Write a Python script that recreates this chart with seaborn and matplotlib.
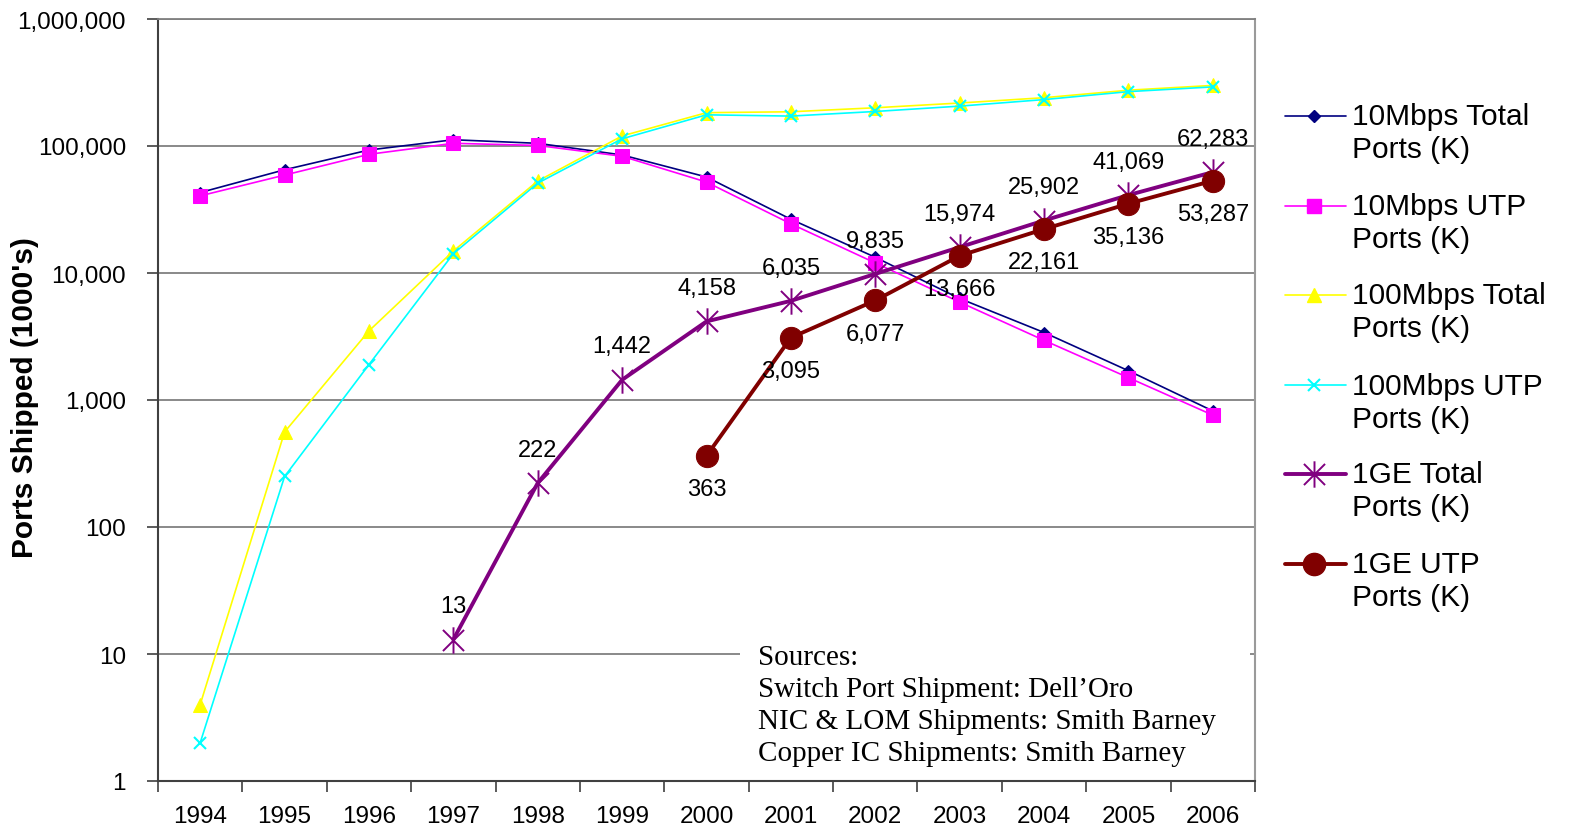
import numpy as np
import pandas as pd
import matplotlib
matplotlib.use("Agg")
import matplotlib.pyplot as plt
from matplotlib.path import Path
from matplotlib.lines import Line2D
from matplotlib.patches import Rectangle
from matplotlib.ticker import FuncFormatter, FixedLocator, NullLocator
import seaborn as sns

# ---- data (thousands of ports shipped) ----
years = [1994, 1995, 1996, 1997, 1998, 1999, 2000, 2001, 2002, 2003, 2004, 2005, 2006]

mbps10_total = [43000, 65000, 93000, 112000, 105000, 85000, 57000, 26500, 13300, 6300, 3400, 1700, 820]
mbps10_utp = [40500, 59000, 86000, 105000, 101000, 83000, 52000, 24400, 12000, 5900, 2950, 1500, 760]
mbps100_total = [4, 560, 3500, 14900, 53000, 120000, 183000, 186000, 200000, 218000, 240000, 275000, 300000]
mbps100_utp = [2, 250, 1900, 14200, 51000, 114000, 176000, 172000, 187000, 206000, 232000, 268000, 292000]
ge1_total = [np.nan, np.nan, np.nan, 13, 222, 1442, 4158, 6035, 9835, 15974, 25902, 41069, 62283]
ge1_utp = [np.nan, np.nan, np.nan, np.nan, np.nan, np.nan, 363, 3095, 6077, 13666, 22161, 35136, 53287]

series_names = [
    "10Mbps Total\nPorts (K)",
    "10Mbps UTP\nPorts (K)",
    "100Mbps Total\nPorts (K)",
    "100Mbps UTP\nPorts (K)",
    "1GE Total\nPorts (K)",
    "1GE UTP\nPorts (K)",
]
series_values = [mbps10_total, mbps10_utp, mbps100_total, mbps100_utp, ge1_total, ge1_utp]

source_lines = [
    "Sources:",
    "Switch Port Shipment: Dell\u2019Oro",
    "NIC & LOM Shipments: Smith Barney",
    "Copper IC Shipments: Smith Barney",
]

# ---- styling ----
sns.set_theme(style="white")
plt.rcParams["font.family"] = ["Liberation Sans", "DejaVu Sans"]

# Excel-style star: vertical bar crossed by an X
star = Path(
    [(0, -1), (0, 1), (-0.8, -0.8), (0.8, 0.8), (-0.8, 0.8), (0.8, -0.8)],
    [Path.MOVETO, Path.LINETO] * 3,
)

styles = [
    dict(color="#000080", marker="D", markersize=6, lw=1.2, mfc="#000080", mec="#000080"),
    dict(color="#FF00FF", marker="s", markersize=9.5, lw=1.2, mfc="#FF00FF", mec="#FF00FF"),
    dict(color="#FFFF00", marker="^", markersize=10, lw=1.2, mfc="#FFFF00", mec="#FFFF00"),
    dict(color="#00FFFF", marker="x", markersize=9, lw=1.2, mew=1.5, mec="#00FFFF"),
    dict(color="#800080", marker=star, markersize=19, lw=2.8, mew=1.4, mec="#800080", mfc="none"),
    dict(color="#800000", marker="o", markersize=16, lw=2.8, mfc="#800000", mec="#800000"),
]

W, H = 1570, 829
fig = plt.figure(figsize=(W / 100, H / 100), dpi=100)
ax = fig.add_axes([158 / W, 1 - 782 / H, (1255 - 158) / W, (782 - 20) / H])

xpos = np.arange(len(years))
for name, vals, st in zip(series_names, series_values, styles):
    df = pd.DataFrame({"x": xpos, "y": vals}).dropna()
    sns.lineplot(data=df, x="x", y="y", ax=ax, estimator=None, sort=False,
                 zorder=4, legend=False, **st)

# value labels for the gigabit series
for i, v in enumerate(ge1_total):
    if not np.isnan(v):
        ax.annotate(f"{int(v):,}", (i, v), xytext=(0, 24), textcoords="offset points",
                    ha="center", va="center", fontsize=17, color="black", zorder=6)
for i, v in enumerate(ge1_utp):
    if not np.isnan(v):
        ax.annotate(f"{int(v):,}", (i, v), xytext=(0, -24), textcoords="offset points",
                    ha="center", va="center", fontsize=17, color="black", zorder=6)

# ---- axes ----
ax.set_yscale("log")
ax.set_ylim(1, 1e6)
ax.set_xlim(-0.5, len(years) - 0.5)
ax.yaxis.set_major_locator(FixedLocator([10 ** k for k in range(7)]))
ax.yaxis.set_minor_locator(NullLocator())
ax.yaxis.set_major_formatter(FuncFormatter(lambda v, p: f"{int(round(v)):,}"))
ax.set_xticks(xpos)
ax.set_xticklabels([str(y) for y in years])
ax.xaxis.set_minor_locator(FixedLocator(np.arange(-0.5, len(years), 1.0)))
ax.tick_params(axis="x", which="major", length=0, pad=17, labelsize=17.5, colors="black")
ax.tick_params(axis="x", which="minor", length=8, width=1.2, color="#404040", direction="out", bottom=True)
ax.tick_params(axis="y", which="major", length=8, width=1.2, color="#404040", direction="out",
               left=True, pad=15, labelsize=17.5, labelcolor="black")
ax.set_xlabel("")
ax.set_ylabel("Ports Shipped (1000's)", fontsize=21.5, fontweight="bold", color="black")
ax.yaxis.set_label_coords(-0.1085, 0.505)

ax.set_axisbelow(True)
ax.yaxis.grid(True, color="#808080", lw=1.3)
ax.xaxis.grid(False)
for side in ["left", "bottom"]:
    ax.spines[side].set_color("#404040")
    ax.spines[side].set_linewidth(1.5)
ax.spines["top"].set_color("#808080")
ax.spines["top"].set_linewidth(1.3)
ax.spines["right"].set_color("#9a9a9a")
ax.spines["right"].set_linewidth(1.5)

# sources note on a white panel
ax.add_patch(Rectangle(((740 - 158) / 1097, (782 - 778) / 762), (1250 - 740) / 1097, (778 - 638) / 762,
                       transform=ax.transAxes, facecolor="white", edgecolor="none", zorder=1))
ax.text((758 - 158) / 1097, (782 - 645) / 762, "\n".join(source_lines), transform=ax.transAxes,
        ha="left", va="top", fontsize=21, family=["Liberation Serif", "DejaVu Serif"],
        linespacing=1.3, color="black", zorder=3)

# ---- legend on the right ----
handle_y = [117, 207, 296, 386, 475, 565]
base_y = [125, 215, 304, 395, 483, 573]
for name, st, hy, by in zip(series_names, styles, handle_y, base_y):
    yf = 1 - hy / H
    fig.add_artist(Line2D([1285 / W, 1346 / W], [yf, yf], transform=fig.transFigure,
                          color=st["color"], lw=st["lw"]))
    mk = {k: v for k, v in st.items() if k not in ("color", "lw")}
    fig.add_artist(Line2D([1314 / W], [yf], transform=fig.transFigure, linestyle="none", **mk))
    first, second = name.split("\n")
    fig.text(1352 / W, 1 - by / H, first, ha="left", va="baseline", fontsize=21.5, color="black")
    fig.text(1352 / W, 1 - (by + 33) / H, second, ha="left", va="baseline", fontsize=21.5, color="black")

fig.savefig("out.png", dpi=100, facecolor="white")
